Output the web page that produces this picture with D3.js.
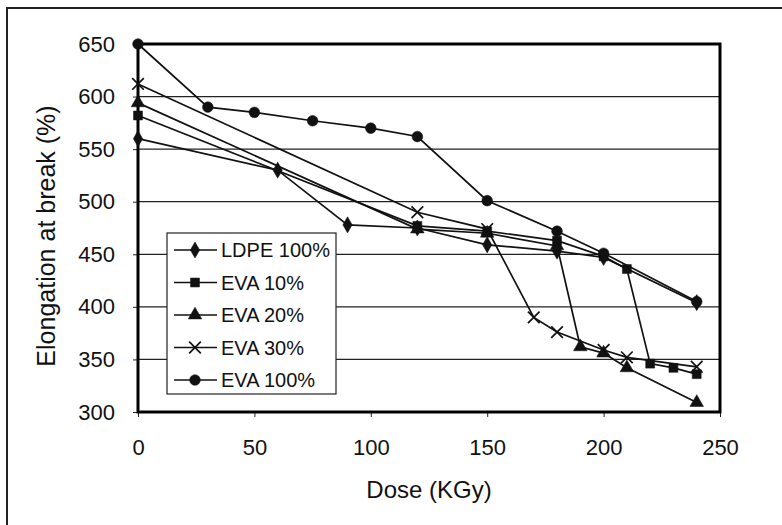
<!DOCTYPE html>
<html>
<head>
<meta charset="utf-8">
<script src="https://cdn.jsdelivr.net/npm/d3@7"></script>
<style>
  body { margin: 0; background: #fff; }
  text { font-family: "Liberation Sans", Arial, sans-serif; fill: #111; }
</style>
</head>
<body>
<div id="container"></div>
<script>
// values
let seriesNames = ["LDPE 100%", "EVA 10%", "EVA 20%", "EVA 30%", "EVA 100%"];

let ldpeDose = [0, 60, 90, 120, 150, 180, 200, 240];
let ldpeElong = [560, 530, 478, 475, 459, 453, 447, 404];

let eva10Dose = [0, 120, 150, 180, 200, 210, 220, 230, 240];
let eva10Elong = [582, 477, 472, 463, 448, 436, 346, 342, 336];

let eva20Dose = [0, 120, 150, 180, 190, 200, 210, 240];
let eva20Elong = [594, 474, 470, 458, 362, 356, 342, 309];

let eva30Dose = [0, 120, 150, 170, 180, 200, 210, 240];
let eva30Elong = [612, 490, 474, 390, 376, 359, 352, 343];

let eva100Dose = [0, 30, 50, 75, 100, 120, 150, 180, 200, 240];
let eva100Elong = [650, 590, 585, 577, 570, 562, 501, 472, 451, 405];

let xTicks = [0, 50, 100, 150, 200, 250];
let yTicks = [300, 350, 400, 450, 500, 550, 600, 650];

let margin = {top: 44, right: 62, bottom: 113, left: 138},
    width = 782 - margin.left - margin.right,
    height = 525 - margin.top - margin.bottom;

let svg = d3.select("#container")
            .append("svg")
                .attr("width", 782)
                .attr("height", 525);

// outer frame of the scanned figure
svg.append("rect")
    .attr("x", 7).attr("y", 8)
    .attr("width", 800).attr("height", 540)
    .attr("fill", "none")
    .attr("stroke", "#222")
    .attr("stroke-width", 2);

let graph = svg.append("g")
                .attr("transform", "translate(" + margin.left + "," + margin.top + ")");

let xScale = d3.scaleLinear().domain([0, 250]).range([0, width]);
let yScale = d3.scaleLinear().domain([300, 650]).range([height, 0]);

// gridlines
graph.append("g")
    .selectAll("line")
    .data(yTicks.slice(1, -1))
    .enter().append("line")
        .attr("x1", 0).attr("x2", width)
        .attr("y1", d => yScale(d)).attr("y2", d => yScale(d))
        .attr("stroke", "#222")
        .attr("stroke-width", 1.2);

// axes
let xAxis = d3.axisBottom(xScale).tickValues(xTicks).tickSize(5).tickPadding(22);
let xAxisGroup = graph.append("g").attr("class", "xaxis")
    .attr("transform", "translate(0," + height + ")")
    .call(xAxis);

let yAxis = d3.axisLeft(yScale).tickValues(yTicks).tickSize(5).tickPadding(18);
let yAxisGroup = graph.append("g").attr("class", "yaxis").call(yAxis);

[xAxisGroup, yAxisGroup].forEach(function(g) {
  g.select(".domain").remove();
  g.selectAll("line").attr("stroke", "#222").attr("stroke-width", 1);
  g.selectAll("text").style("font-size", "22px").attr("fill", "#111");
});

// plot border (thick)
graph.append("rect")
    .attr("width", width).attr("height", height)
    .attr("fill", "none")
    .attr("stroke", "#000")
    .attr("stroke-width", 3);

// axis titles
svg.append("text")
    .attr("x", margin.left + width / 2)
    .attr("y", 498)
    .attr("text-anchor", "middle")
    .style("font-size", "24px")
    .text("Dose (KGy)");

svg.append("text")
    .attr("transform", "translate(46," + (margin.top + height / 2 + 8) + ") rotate(-90)")
    .attr("text-anchor", "middle")
    .attr("dominant-baseline", "central")
    .style("font-size", "25px")
    .text("Elongation at break (%)");

// series
let symbols = [
  d3.symbol().type(d3.symbolDiamond).size(75),
  d3.symbol().type(d3.symbolSquare).size(80),
  d3.symbol().type(d3.symbolTriangle).size(80),
  d3.symbol().type(d3.symbolX).size(90),
  d3.symbol().type(d3.symbolCircle).size(90)
];
let strokeOnly = [false, false, false, true, false];

let allSeries = [
  {dose: ldpeDose, elong: ldpeElong},
  {dose: eva10Dose, elong: eva10Elong},
  {dose: eva20Dose, elong: eva20Elong},
  {dose: eva30Dose, elong: eva30Elong},
  {dose: eva100Dose, elong: eva100Elong}
];

let line = d3.line()
              .x(d => xScale(d[0]))
              .y(d => yScale(d[1]));

allSeries.forEach(function(s, i) {
  let pts = s.dose.map((d, j) => [d, s.elong[j]]);
  graph.append("path")
      .datum(pts)
      .attr("d", line)
      .attr("fill", "none")
      .attr("stroke", "#111")
      .attr("stroke-width", 1.7);

  graph.append("g")
      .selectAll("path")
      .data(pts)
      .enter().append("path")
        .attr("d", symbols[i])
        .attr("transform", d => "translate(" + xScale(d[0]) + "," + yScale(d[1]) + ")")
        .attr("fill", strokeOnly[i] ? "none" : "#111")
        .attr("stroke", "#111")
        .attr("stroke-width", strokeOnly[i] ? 1.7 : 0.5);
});

// legend
let legend = svg.append("g").attr("transform", "translate(167,233)");
legend.append("rect")
    .attr("width", 169).attr("height", 161)
    .attr("fill", "#fff")
    .attr("stroke", "#222")
    .attr("stroke-width", 1.2);

seriesNames.forEach(function(name, i) {
  let y = 17 + i * 32.5;
  legend.append("line")
      .attr("x1", 7).attr("x2", 50)
      .attr("y1", y).attr("y2", y)
      .attr("stroke", "#111")
      .attr("stroke-width", 1.7);
  legend.append("path")
      .attr("d", symbols[i])
      .attr("transform", "translate(28," + y + ")")
      .attr("fill", strokeOnly[i] ? "none" : "#111")
      .attr("stroke", "#111")
      .attr("stroke-width", strokeOnly[i] ? 1.7 : 0.5);
  legend.append("text")
      .attr("x", 54).attr("y", y)
      .attr("dominant-baseline", "central")
      .style("font-size", "20px")
      .text(name);
});
</script>
</body>
</html>
